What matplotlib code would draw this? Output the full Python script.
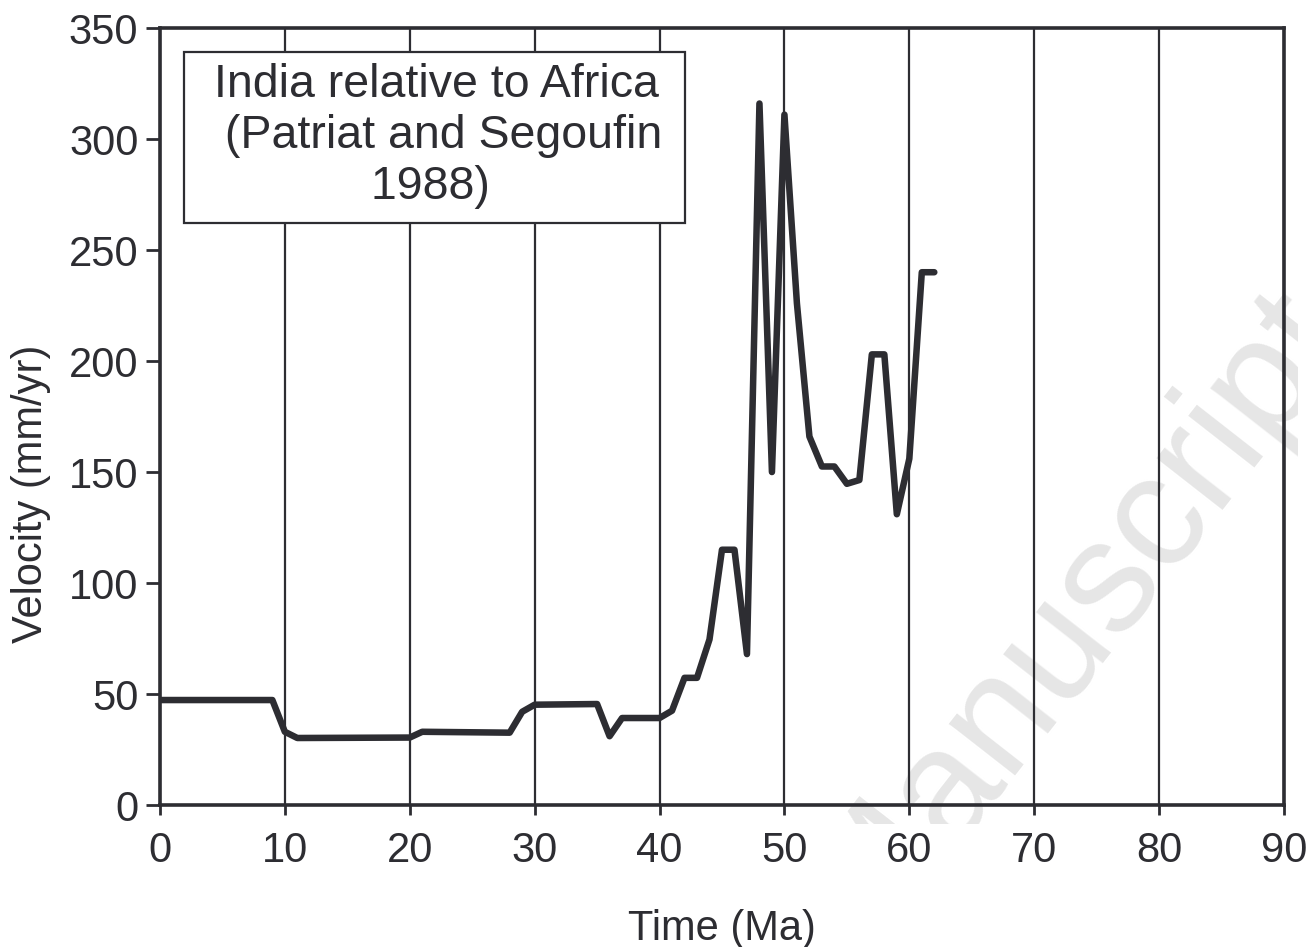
import matplotlib
matplotlib.use('Agg')
import matplotlib.pyplot as plt
from matplotlib.patches import Rectangle

plt.rcParams['font.family'] = ['Liberation Sans', 'DejaVu Sans']

# India relative to Africa, Patriat and Segoufin 1988
age = [0, 9, 10, 11, 20, 21, 28, 29, 30, 35, 36, 37, 40, 41, 42, 43, 44, 45,
       46, 47, 48, 49, 50, 51, 52, 53, 54, 55, 56, 57, 58, 59, 60, 61, 62]  # Ma
vel = [47.3, 47.3, 33, 30.2, 30.4, 33, 32.6, 42, 45.2, 45.5, 31, 39.2, 39.2,
       42.5, 57.3, 57.3, 74.6, 115, 115, 68, 316, 150, 311, 226, 166, 152.5,
       152.5, 144.7, 146.4, 203, 203, 131, 156, 240, 240]  # mm/yr

xticks = list(range(0, 91, 10))
yticks = list(range(0, 351, 50))
box_text = "India relative to Africa\n (Patriat and Segoufin\n1988) "

ink = '#2d2d32'

fig = plt.figure(figsize=(13.09, 9.47), dpi=100)
ax = fig.add_axes([0.1222, 0.1499, 0.8587, 0.8205])

# watermark, clipped a little below the x axis like the original
wm = ax.text(0.815, 0.245, 'Manuscript', transform=ax.transAxes, fontsize=115,
             color='#e6e6e6', rotation=52, rotation_mode='anchor',
             ha='center', va='center', zorder=0, clip_on=True)
clip = Rectangle((0, 0.1299), 0.9916, 0.87, transform=fig.transFigure)
wm.set_clip_path(clip)
wm.set_clip_on(True)

ax.plot(age, vel, color=ink, lw=4.7, solid_capstyle='round',
        solid_joinstyle='round', zorder=4)

ax.set_xlim(0, 90)
ax.set_ylim(0, 350)
ax.set_xticks(xticks)
ax.set_yticks(yticks)
ax.grid(axis='x', color=ink, lw=1.6)
ax.grid(axis='y', visible=False)

for s in ax.spines.values():
    s.set_linewidth(2.6)
    s.set_color(ink)
    s.set_zorder(5)

ax.tick_params(axis='y', direction='out', length=10, width=2, pad=5.5,
               labelsize=30, colors=ink)
ax.tick_params(axis='x', direction='out', length=7, width=2, pad=12,
               labelsize=30, colors=ink)

ax.set_xlabel('Time (Ma)', fontsize=30, color=ink)
ax.set_ylabel('Velocity (mm/yr)', fontsize=30, color=ink)
ax.xaxis.set_label_coords(0.5, -0.134)
ax.yaxis.set_label_coords(-0.097, 0.40)

ax.add_patch(Rectangle((0.0214, 0.7494), 0.4456, 0.2201, transform=ax.transAxes,
                       facecolor='white', edgecolor=ink, lw=1.6, zorder=3))
ax.text(0.2464, 0.861, box_text, transform=ax.transAxes, fontsize=33.5,
        color=ink, ha='center', va='center', multialignment='center',
        linespacing=1.2, zorder=4)

fig.savefig('out.png', dpi=100)
